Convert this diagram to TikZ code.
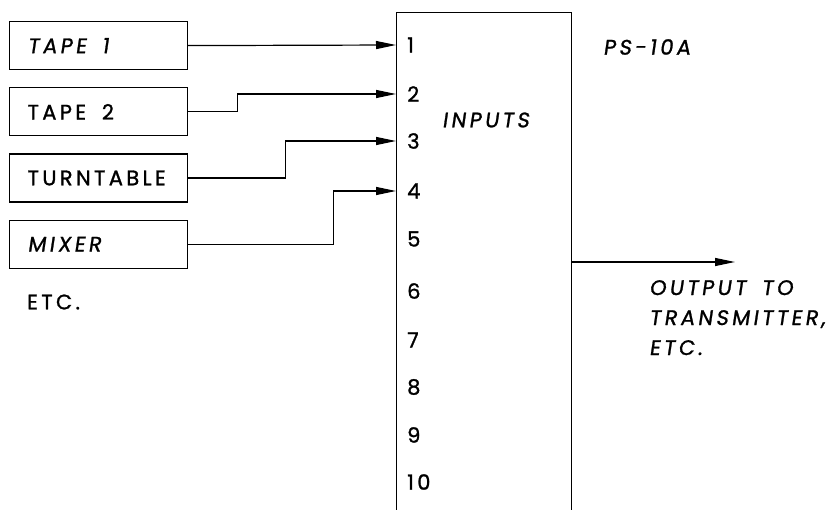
\documentclass[tikz,border=0pt]{standalone}
\usepackage{fontspec}
\setmainfont{Poppins}[LetterSpace=16, FakeBold=1.2,
    ItalicFont=Poppins,
    ItalicFeatures={FakeSlant=0.15, FakeBold=1.2, LetterSpace=16}]
\usepackage{tikz}
\usetikzlibrary{arrows.meta, positioning, calc}

\newcommand{\wgap}{\hspace{0.75em}}

\begin{document}
\begin{tikzpicture}[
    x=1pt, y=-1pt,
    txt/.style={font=\fontsize{21}{30}\selectfont, inner sep=0pt},
    src/.style={draw, line width=1.2pt, txt, anchor=north west,
        text width=142pt, inner xsep=18pt, minimum height=48pt, align=left},
    num/.style={txt, anchor=west},
    arr/.style={-{Triangle[length=20pt, width=8pt]}, line width=1.2pt},
]
    \useasboundingbox (0,0) rectangle (838,510);
    \clip (0,0) rectangle (838,510);

    % Sources
    \node[src] (tape1) at (9,21) {\itshape TAPE\wgap 1};
    \node[src, below=17pt of tape1.south west, anchor=north west] (tape2) {TAPE\wgap 2};
    \node[src, below=17pt of tape2.south west, anchor=north west] (turntable) {TURNTABLE};
    \node[src, below=17pt of turntable.south west, anchor=north west] (mixer) {\itshape MIXER};
    \node[num] (etc) at (27,302) {ETC.};

    % Switcher
    \node[draw, line width=1.2pt, anchor=north west, minimum width=175pt,
        minimum height=520pt] (ps) at (396,12) {};
    \node[num] (psname) at (603,47) {\itshape PS-10A};
    \node[num] (inputs) at (442,120) {\itshape INPUTS};
    \foreach \n/\y in {1/45, 2/94, 3/141, 4/191, 5/239,
                       6/291, 7/340, 8/387, 9/435, 10/482} {
        \node[num] (n\n) at (407,\y) {\n};
    }

    % Input lines
    \draw[arr] (tape1.east) -- (ps.west |- n1);
    \draw[arr] (tape2.east) -- ++(49,0) |- (ps.west |- n2);
    \draw[arr] (turntable.east) -- ++(97,0) |- (ps.west |- n3);
    \draw[arr] (mixer.east) -- ++(145,0) |- (ps.west |- n4);

    % Output
    \coordinate (out) at (735,262);
    \draw[arr] (ps.east |- out) -- (out);
    \node[txt, anchor=north west, align=left] (outtxt) at (649,280)
        {\itshape OUTPUT\wgap TO\\ \itshape TRANSMITTER,\\ \itshape ETC.};
\end{tikzpicture}
\end{document}
